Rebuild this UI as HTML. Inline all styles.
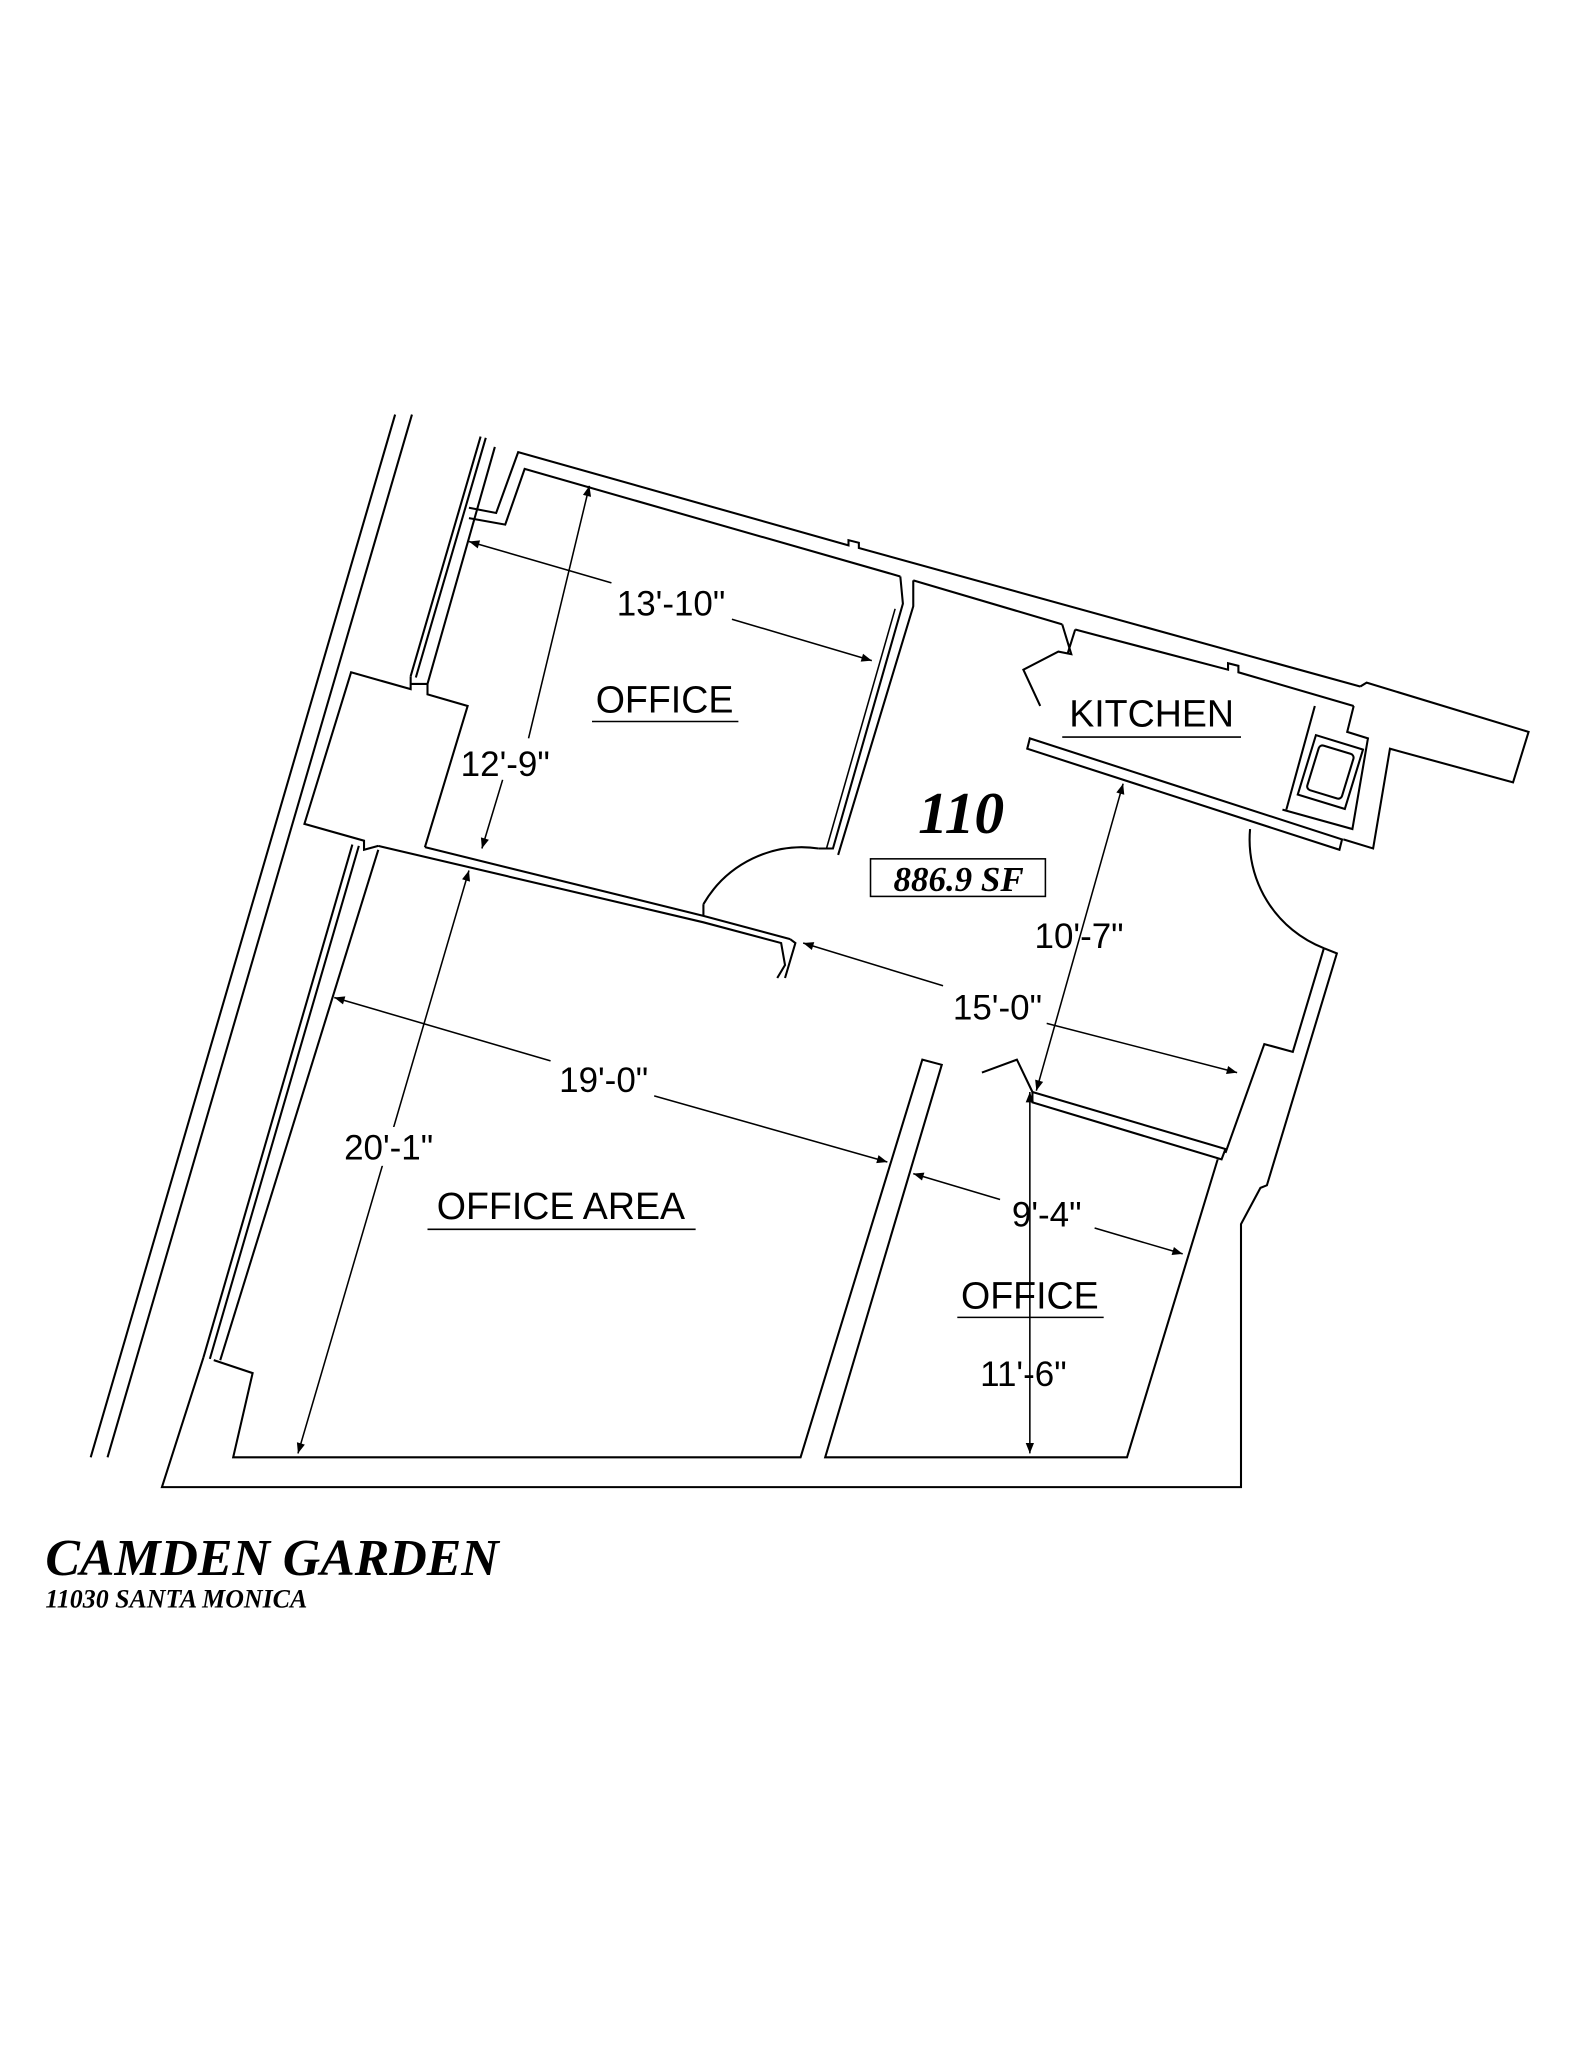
<!DOCTYPE html>
<html><head><meta charset="utf-8"><style>
html,body{margin:0;padding:0;background:#fff;}
svg{display:block;}
.l{fill:none;stroke:#000;stroke-width:1.6;}
.d{fill:none;stroke:#000;stroke-width:1.2;}
.t{font-family:"Liberation Sans",sans-serif;font-size:27px;fill:#000;}
.r{font-family:"Liberation Sans",sans-serif;font-size:29px;fill:#000;}
.s{font-family:"Liberation Serif",serif;font-weight:bold;font-style:italic;fill:#000;}
</style></head><body>
<svg width="1583" height="2048" viewBox="0 0 1222 1581" xmlns="http://www.w3.org/2000/svg">
<defs><marker id="a" viewBox="0 0 10 10" refX="10" refY="5" markerWidth="14" markerHeight="8" markerUnits="userSpaceOnUse" orient="auto-start-reverse"><path d="M0,1 L10,5 L0,9 z" fill="#000"/></marker></defs>
<line class="l" x1="305" y1="320" x2="70" y2="1125"/>
<line class="l" x1="318" y1="320" x2="83" y2="1125"/>
<line class="l" x1="371" y1="337" x2="317" y2="522"/>
<line class="l" x1="375" y1="338" x2="321" y2="523"/>
<line class="l" x1="382" y1="345" x2="330" y2="528"/>
<polyline class="l" points="362,392 383,396 400,349 655,421 655,417 663,419 663,423 1050,530"/>
<polyline class="l" points="362,400 390,405 405,362 695,445"/>
<polyline class="l" points="705,448 820,482"/>
<polyline class="l" points="830,486 948,517 948,512 956,514 956,519 1045,545"/>
<polyline class="l" points="1050,530 1055,527 1180,565 1168,604 1073,578 1060,655 1037,648"/>
<polyline class="l" points="1045,545 1040,565 1056,570 1044,640 990,625"/>
<polyline class="l" points="1015,545 993,625"/>
<rect class="l" x="1008" y="572" width="38" height="48" transform="rotate(17 1027 596)"/>
<rect class="l" x="1013" y="578" width="28" height="36" rx="3" transform="rotate(17 1027 596)"/>
<polygon class="l" points="795,570 1036,648 1034,656 793,578"/>
<polyline class="l" points="820,482 827,505 817,503 790,517 803,545"/>
<polyline class="l" points="830,486 824,505"/>
<polyline class="l" points="695,445 697,466 643,655 632,655"/>
<polyline class="l" points="705,448 705,468 647,660"/>
<line class="d" x1="691" y1="470" x2="638" y2="655"/>
<path class="l" d="M632,655 A88,88 0 0 0 543,698"/>
<polyline class="l" points="317,522 317,532 271,519 235,636 281,649 281,656 292,653"/>
<polyline class="l" points="330,528 330,536 361,545 328,654"/>
<line class="l" x1="317" y1="528" x2="330" y2="528"/>
<polyline class="l" points="292,653 543,712 603,728 606,745 600,755"/>
<polyline class="l" points="328,654 543,707 610,725"/>
<polyline class="l" points="543,698 543,707"/>
<polyline class="l" points="610,725 614,728 606,755"/>
<line class="l" x1="272" y1="652" x2="157" y2="1048"/>
<line class="l" x1="277" y1="653" x2="162" y2="1049"/>
<line class="l" x1="292" y1="656" x2="170" y2="1050"/>
<polyline class="l" points="157,1048 125,1148 958,1148 958,945 973,917 978,915 1032,736 1022,732"/>
<polyline class="l" points="165,1050 195,1060 180,1125 618,1125 712,818 727,822 637,1125 870,1125 940,895"/>
<polygon class="l" points="797,843 946,887 943,895 797,851"/>
<polyline class="l" points="1022,732 998,812 976,806 946,890"/>
<path class="l" d="M965,640 A90,90 0 0 0 1022,732"/>
<polyline class="l" points="758,828 785,818 797,843"/>
<line class="d" x1="362" y1="418" x2="472" y2="450" marker-start="url(#a)"/>
<line class="d" x1="565" y1="478" x2="673" y2="510" marker-end="url(#a)"/>
<text class="t" x="518" y="475" text-anchor="middle">13'-10"</text>
<line class="d" x1="455" y1="375" x2="408" y2="570" marker-start="url(#a)"/>
<line class="d" x1="388" y1="602" x2="372" y2="655" marker-end="url(#a)"/>
<text class="t" x="390" y="599" text-anchor="middle">12'-9"</text>
<line class="d" x1="258" y1="770" x2="425" y2="819" marker-start="url(#a)"/>
<line class="d" x1="505" y1="846" x2="685" y2="897" marker-end="url(#a)"/>
<text class="t" x="466" y="843" text-anchor="middle">19'-0"</text>
<line class="d" x1="362" y1="672" x2="230" y2="1122" marker-start="url(#a)" marker-end="url(#a)"/>
<rect x="264" y="870" width="72" height="30" fill="#fff"/>
<text class="t" x="300" y="895" text-anchor="middle">20'-1"</text>
<line class="d" x1="620" y1="728" x2="728" y2="761" marker-start="url(#a)"/>
<line class="d" x1="808" y1="790" x2="955" y2="828" marker-end="url(#a)"/>
<text class="t" x="770" y="787" text-anchor="middle">15'-0"</text>
<line class="d" x1="867" y1="605" x2="800" y2="842" marker-start="url(#a)" marker-end="url(#a)"/>
<text class="t" x="833" y="732" text-anchor="middle">10'-7"</text>
<line class="d" x1="705" y1="906" x2="772" y2="926" marker-start="url(#a)"/>
<line class="d" x1="845" y1="948" x2="913" y2="968" marker-end="url(#a)"/>
<text class="t" x="808" y="947" text-anchor="middle">9'-4"</text>
<line class="d" x1="795" y1="843" x2="795" y2="1122" marker-start="url(#a)" marker-end="url(#a)"/>
<text class="t" x="790" y="1070" text-anchor="middle">11'-6"</text>
<text class="r" x="513" y="550" text-anchor="middle">OFFICE</text>
<line class="d" x1="457" y1="557" x2="570" y2="557"/>
<text class="r" x="889" y="561" text-anchor="middle">KITCHEN</text>
<line class="d" x1="820" y1="569" x2="958" y2="569"/>
<text class="r" x="433" y="941" text-anchor="middle">OFFICE AREA</text>
<line class="d" x1="330" y1="949" x2="537" y2="949"/>
<text class="r" x="795" y="1010" text-anchor="middle">OFFICE</text>
<line class="d" x1="739" y1="1017" x2="852" y2="1017"/>
<text class="s" x="742" y="643" text-anchor="middle" font-size="46">110</text>
<rect class="d" x="672" y="663" width="135" height="29"/>
<text class="s" x="740" y="688" text-anchor="middle" font-size="27">886.9 SF</text>
<text class="s" x="35" y="1216" font-size="40">CAMDEN GARDEN</text>
<text class="s" x="35" y="1241" font-size="20">11030 SANTA MONICA</text>
</svg>
</body></html>
